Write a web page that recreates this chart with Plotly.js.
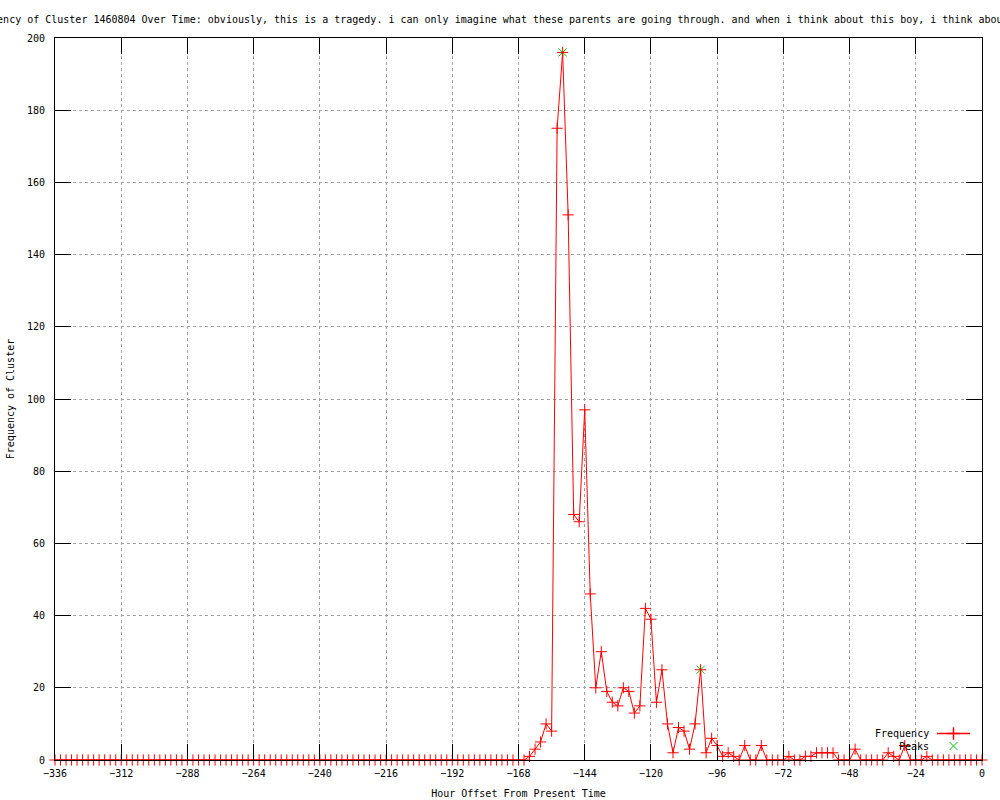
<!DOCTYPE html>
<html>
<head>
<meta charset="utf-8">
<script src="https://cdn.plot.ly/plotly-3.0.1.min.js"></script>
<style>html,body{margin:0;padding:0;background:#fff;}#chart{width:1000px;height:800px;}</style>
</head>
<body>
<div id="chart"></div>
<script>
var titleText = "Frequency of Cluster 1460804 Over Time: obviously, this is a tragedy. i can only imagine what these parents are going through. and when i think about this boy, i think about";
var xTitle = "Hour Offset From Present Time";
var yTitle = "Frequency of Cluster";
var legendNames = ["Frequency", "Peaks"];

var hours = [
 -336,-334,-332,-330,-328,-326,-324,-322,-320,-318,-316,-314,-312,-310,-308,-306,-304,-302,-300,-298,
 -296,-294,-292,-290,-288,-286,-284,-282,-280,-278,-276,-274,-272,-270,-268,-266,-264,-262,-260,-258,
 -256,-254,-252,-250,-248,-246,-244,-242,-240,-238,-236,-234,-232,-230,-228,-226,-224,-222,-220,-218,
 -216,-214,-212,-210,-208,-206,-204,-202,-200,-198,-196,-194,-192,-190,-188,-186,-184,-182,-180,-178,
 -176,-174,-172,-170,-168,-166,-164,-162,-160,-158,-156,-154,-152,-150,-148,-146,-144,-142,-140,-138,
 -136,-134,-132,-130,-128,-126,-124,-122,-120,-118,-116,-114,-112,-110,-108,-106,-104,-102,-100,-98,
 -96,-94,-92,-90,-88,-86,-84,-82,-80,-78,-76,-74,-72,-70,-68,-66,-64,-62,-60,-58,
 -56,-54,-52,-50,-48,-46,-44,-42,-40,-38,-36,-34,-32,-30,-28,-26,-24,-22,-20,-18,
 -16,-14,-12,-10,-8,-6,-4,-2,0
];
var frequency = [
 0,0,0,0,0,0,0,0,0,0,0,0,0,0,0,0,0,0,0,0,
 0,0,0,0,0,0,0,0,0,0,0,0,0,0,0,0,0,0,0,0,
 0,0,0,0,0,0,0,0,0,0,0,0,0,0,0,0,0,0,0,0,
 0,0,0,0,0,0,0,0,0,0,0,0,0,0,0,0,0,0,0,0,
 0,0,0,0,0,0,1,3,5,10,8,175,196,151,68,66,97,46,20,30,
 19,16,15,20,19,13,15,42,39,16,25,10,2,9,8,3,10,25,2,6,
 4,1,2,1,0,4,0,0,4,0,0,0,0,1,0,0,1,1,2,2,
 2,2,0,0,0,3,0,0,0,0,0,2,1,0,4,0,0,0,1,0,
 0,0,0,0,0,0,0,0,0
];
var peakHours = [-152, -102];
var peakValues = [196, 25];

var xTickVals = [-336,-312,-288,-264,-240,-216,-192,-168,-144,-120,-96,-72,-48,-24,0];
var yTickVals = [0,20,40,60,80,100,120,140,160,180,200];

var FONT = "DejaVu Sans Mono, Liberation Mono, monospace";
var RED = "#ff0000";
var GREEN = "#00c000";

function px2x(p) { return (p - 55) / 927; }
function py2y(p) { return (760 - p) / 722; }

var traces = [
  {
    x: peakHours, y: peakValues, type: "scatter", mode: "markers", name: legendNames[1],
    marker: {symbol: "x-thin", size: 8, color: GREEN, line: {color: GREEN, width: 1}},
    cliponaxis: false, showlegend: false, hoverinfo: "x+y"
  },
  {
    x: hours, y: frequency, type: "scatter", mode: "lines+markers", name: legendNames[0],
    line: {color: RED, width: 1},
    marker: {symbol: "cross-thin", size: 8, color: RED, line: {color: RED, width: 1}},
    cliponaxis: false, showlegend: false, hoverinfo: "x+y"
  },
  /* legend key samples, placed on a hidden 0..1 overlay axis */
  {
    x: [px2x(937), px2x(970)], y: [py2y(733.5), py2y(733.5)], xaxis: "x2", yaxis: "y2",
    type: "scatter", mode: "lines+markers", line: {color: RED, width: 1.5},
    marker: {symbol: "line-ns", size: 0.1, color: RED, line: {color: RED, width: 0}},
    showlegend: false, hoverinfo: "skip", cliponaxis: false
  },
  {
    x: [px2x(953.5)], y: [py2y(733.5)], xaxis: "x2", yaxis: "y2",
    type: "scatter", mode: "markers",
    marker: {symbol: "cross-thin", size: 9, color: RED, line: {color: RED, width: 1.5}},
    showlegend: false, hoverinfo: "skip", cliponaxis: false
  },
  {
    x: [px2x(953.5)], y: [py2y(746)], xaxis: "x2", yaxis: "y2",
    type: "scatter", mode: "markers",
    marker: {symbol: "x-thin", size: 8, color: GREEN, line: {color: GREEN, width: 1}},
    showlegend: false, hoverinfo: "skip", cliponaxis: false
  }
];

var axisCommon = {
  showline: true, linecolor: "#000", linewidth: 1, mirror: "allticks",
  ticks: "inside", ticklen: 16, tickwidth: 1, tickcolor: "#000",
  showgrid: true, gridcolor: "#a0a0a0", gridwidth: 1, griddash: "3px,3px",
  zeroline: false, tickfont: {family: FONT, size: 10, color: "#000"},
  automargin: false, fixedrange: true
};

var layout = {
  width: 1000, height: 800,
  margin: {l: 55, r: 18, t: 38, b: 40, pad: 0},
  paper_bgcolor: "#fff", plot_bgcolor: "#fff",
  font: {family: FONT, size: 10, color: "#000"},
  showlegend: false,
  xaxis: Object.assign({}, axisCommon, {
    range: [-336, 0], tickmode: "array", tickvals: xTickVals,
    ticklabelstandoff: 4,
    title: {text: xTitle, font: {family: FONT, size: 10, color: "#000"}, standoff: 11}
  }),
  yaxis: Object.assign({}, axisCommon, {
    range: [0, 200], tickmode: "array", tickvals: yTickVals,
    ticklabelstandoff: 7,
    title: {text: yTitle, font: {family: FONT, size: 10, color: "#000"}, standoff: 10}
  }),
  xaxis2: {overlaying: "x", range: [0, 1], visible: false, fixedrange: true},
  yaxis2: {overlaying: "y", range: [0, 1], visible: false, fixedrange: true},
  annotations: [
    {text: titleText, xref: "paper", yref: "paper", x: px2x(-35), y: py2y(19.5),
     xanchor: "left", yanchor: "middle", showarrow: false,
     font: {family: FONT, size: 10, color: "#000"}},
    {text: legendNames[0], xref: "paper", yref: "paper", x: px2x(931), y: py2y(733.5),
     xanchor: "right", yanchor: "middle", showarrow: false,
     font: {family: FONT, size: 10, color: "#000"}},
    {text: legendNames[1], xref: "paper", yref: "paper", x: px2x(931), y: py2y(746),
     xanchor: "right", yanchor: "middle", showarrow: false,
     font: {family: FONT, size: 10, color: "#000"}}
  ]
};

Plotly.newPlot("chart", traces, layout, {displayModeBar: false, staticPlot: true});
</script>
</body>
</html>
